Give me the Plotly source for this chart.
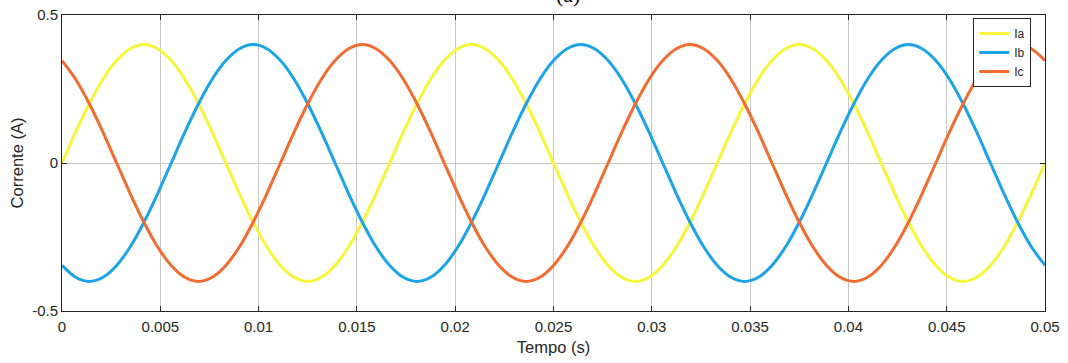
import plotly.graph_objects as go

t = [0, 0.000694, 0.001389, 0.002083, 0.002778, 0.003472, 0.004167, 0.004861, 0.005556,
     0.00625, 0.006944, 0.007639, 0.008333, 0.009028, 0.009722, 0.010417, 0.011111,
     0.011806, 0.0125, 0.013194, 0.013889, 0.014583, 0.015278, 0.015972, 0.016667,
     0.017361, 0.018056, 0.01875, 0.019444, 0.020139, 0.020833, 0.021528, 0.022222,
     0.022917, 0.023611, 0.024306, 0.025, 0.025694, 0.026389, 0.027083, 0.027778,
     0.028472, 0.029167, 0.029861, 0.030556, 0.03125, 0.031944, 0.032639, 0.033333,
     0.034028, 0.034722, 0.035417, 0.036111, 0.036806, 0.0375, 0.038194, 0.038889,
     0.039583, 0.040278, 0.040972, 0.041667, 0.042361, 0.043056, 0.04375, 0.044444,
     0.045139, 0.045833, 0.046528, 0.047222, 0.047917, 0.048611, 0.049306, 0.05]

ia = [0, 0.104, 0.2, 0.283, 0.346, 0.386, 0.4, 0.386, 0.346, 0.283, 0.2, 0.104,
      0, -0.104, -0.2, -0.283, -0.346, -0.386, -0.4, -0.386, -0.346, -0.283, -0.2, -0.104,
      0, 0.104, 0.2, 0.283, 0.346, 0.386, 0.4, 0.386, 0.346, 0.283, 0.2, 0.104,
      0, -0.104, -0.2, -0.283, -0.346, -0.386, -0.4, -0.386, -0.346, -0.283, -0.2, -0.104,
      0, 0.104, 0.2, 0.283, 0.346, 0.386, 0.4, 0.386, 0.346, 0.283, 0.2, 0.104,
      0, -0.104, -0.2, -0.283, -0.346, -0.386, -0.4, -0.386, -0.346, -0.283, -0.2, -0.104,
      0]

ib = [-0.346, -0.386, -0.4, -0.386, -0.346, -0.283, -0.2, -0.104, 0, 0.104, 0.2, 0.283,
      0.346, 0.386, 0.4, 0.386, 0.346, 0.283, 0.2, 0.104, 0, -0.104, -0.2, -0.283,
      -0.346, -0.386, -0.4, -0.386, -0.346, -0.283, -0.2, -0.104, 0, 0.104, 0.2, 0.283,
      0.346, 0.386, 0.4, 0.386, 0.346, 0.283, 0.2, 0.104, 0, -0.104, -0.2, -0.283,
      -0.346, -0.386, -0.4, -0.386, -0.346, -0.283, -0.2, -0.104, 0, 0.104, 0.2, 0.283,
      0.346, 0.386, 0.4, 0.386, 0.346, 0.283, 0.2, 0.104, 0, -0.104, -0.2, -0.283,
      -0.346]

ic = [0.346, 0.283, 0.2, 0.104, 0, -0.104, -0.2, -0.283, -0.346, -0.386, -0.4, -0.386,
      -0.346, -0.283, -0.2, -0.104, 0, 0.104, 0.2, 0.283, 0.346, 0.386, 0.4, 0.386,
      0.346, 0.283, 0.2, 0.104, 0, -0.104, -0.2, -0.283, -0.346, -0.386, -0.4, -0.386,
      -0.346, -0.283, -0.2, -0.104, 0, 0.104, 0.2, 0.283, 0.346, 0.386, 0.4, 0.386,
      0.346, 0.283, 0.2, 0.104, 0, -0.104, -0.2, -0.283, -0.346, -0.386, -0.4, -0.386,
      -0.346, -0.283, -0.2, -0.104, 0, 0.104, 0.2, 0.283, 0.346, 0.386, 0.4, 0.386,
      0.346]

x_ticks = [0, 0.005, 0.01, 0.015, 0.02, 0.025, 0.03, 0.035, 0.04, 0.045, 0.05]
x_labels = ["0", "0.005", "0.01", "0.015", "0.02", "0.025", "0.03", "0.035", "0.04", "0.045", "0.05"]
y_ticks = [-0.5, 0, 0.5]
y_labels = ["-0.5", "0", "0.5"]

series = [("Ia", ia, "#F7F53A"), ("Ib", ib, "#1CA3E8"), ("Ic", ic, "#F26B30")]

fig = go.Figure()
for name, vals, col in series:
    fig.add_trace(go.Scatter(x=t, y=vals, name=name, mode="lines",
                             line=dict(color=col, width=3, shape="spline", smoothing=0.8)))

FONT = "Liberation Sans, Arial"
axis_common = dict(showline=True, linecolor="#262626", linewidth=1, mirror="ticks",
                   ticks="inside", ticklen=5, tickcolor="#262626",
                   showgrid=True, gridcolor="#C8C8C8", gridwidth=1, zeroline=False,
                   automargin=False,
                   tickfont=dict(family=FONT, size=15, color="#262626"))

fig.update_layout(
    width=1068, height=363,
    margin=dict(l=62, r=23, t=15, b=52),
    paper_bgcolor="white", plot_bgcolor="white",
    showlegend=True,
    legend=dict(x=0.986, xanchor="right", y=0.99, yanchor="top",
                bgcolor="white", bordercolor="#262626", borderwidth=1,
                font=dict(family=FONT, size=12, color="#262626"),
                itemwidth=30, tracegroupgap=0),
    xaxis=dict(range=[0, 0.05], tickvals=x_ticks, ticktext=x_labels, ticklabelstandoff=2,
               title=dict(text="Tempo (s)", standoff=7,
                          font=dict(family=FONT, size=16.5, color="#262626")),
               **axis_common),
    yaxis=dict(range=[-0.5, 0.5], tickvals=y_ticks, ticktext=y_labels,
               title=dict(text="Corrente (A)", standoff=4,
                          font=dict(family=FONT, size=16.5, color="#262626")),
               **axis_common),
    annotations=[dict(text="(a)", xref="paper", yref="paper", x=0.515, y=1,
                      yanchor="bottom", yshift=6, showarrow=False,
                      font=dict(family="Liberation Serif, Times New Roman", size=22, color="black"))],
)

fig.write_html("out.html", config={"displayModeBar": False},
               post_script="document.body.style.margin='0px';")
